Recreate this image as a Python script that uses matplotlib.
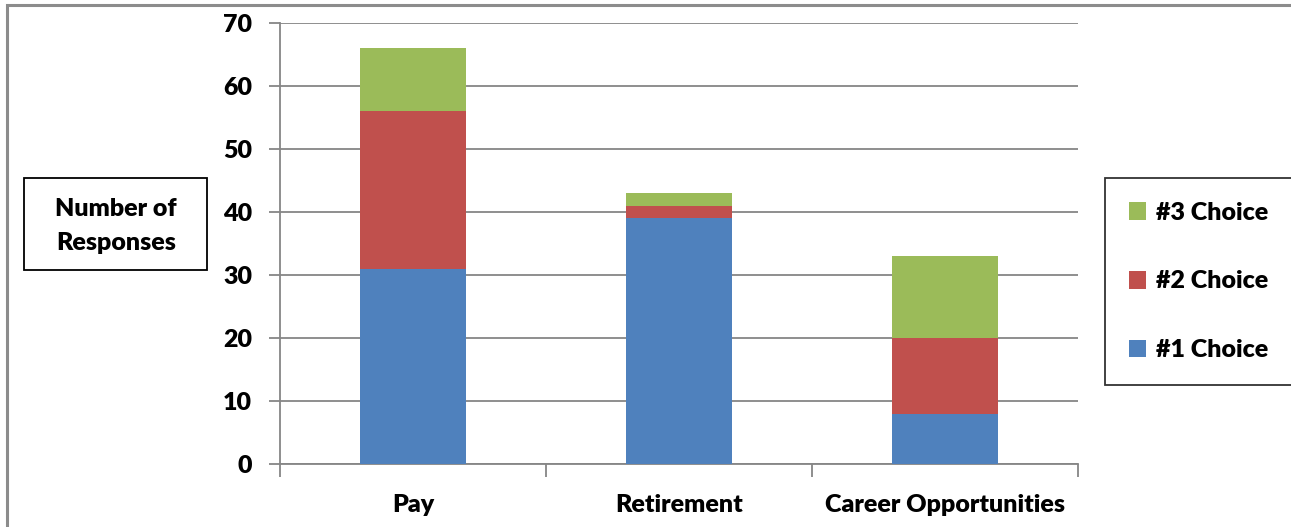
import matplotlib
matplotlib.use("Agg")
import matplotlib.pyplot as plt
from matplotlib.patches import Rectangle, Patch

# Ответы по категориям (стек: #1, #2, #3)
categories = ["Pay", "Retirement", "Career Opportunities"]
choice1 = [31, 39, 8]
choice2 = [25, 2, 12]
choice3 = [10, 2, 13]
series_labels = ["#1 Choice", "#2 Choice", "#3 Choice"]
y_ticks = [0, 10, 20, 30, 40, 50, 60, 70]

COLORS = ["#4F81BD", "#C0504D", "#9BBB59"]
GRID = "#868686"
FONT = "Lato"
WEIGHT = "heavy"
FS = 18

W, H = 1291, 527
fig = plt.figure(figsize=(W / 100, H / 100), dpi=100)

# рамка всей диаграммы (уходит за край справа и снизу)
fig.patches.append(Rectangle((7 / W, -0.05), 1.1, 1 - 5 / H + 0.05,
                             transform=fig.transFigure, fill=False,
                             edgecolor="#8c8c8c", linewidth=2.2))

ax = fig.add_axes([280 / W, 63 / H, 798 / W, 441 / H])

x = list(range(len(categories)))
bottom2 = [a for a in choice1]
bottom3 = [a + b for a, b in zip(choice1, choice2)]
ax.bar(x, choice1, width=0.4, color=COLORS[0], zorder=3)
ax.bar(x, choice2, width=0.4, bottom=bottom2, color=COLORS[1], zorder=3)
ax.bar(x, choice3, width=0.4, bottom=bottom3, color=COLORS[2], zorder=3)

ax.set_xlim(-0.5, len(categories) - 0.5)
ax.set_ylim(0, 70)
ax.set_yticks(y_ticks)
ax.yaxis.grid(True, color=GRID, linewidth=1.3, zorder=0)
ax.set_axisbelow(True)

for s in ("top", "right"):
    ax.spines[s].set_visible(False)
for s in ("left", "bottom"):
    ax.spines[s].set_color(GRID)
    ax.spines[s].set_linewidth(1.3)

# деления между категориями
ax.set_xticks([i - 0.5 for i in range(len(categories) + 1)], minor=False)
ax.set_xticklabels([])
ax.tick_params(axis="x", length=9, color=GRID, width=1.3)
ax.tick_params(axis="y", length=8, color=GRID, width=1.3, pad=12)
for t in ax.get_yticklabels():
    t.set_fontfamily(FONT)
    t.set_fontweight(WEIGHT)
    t.set_fontsize(FS)

for i, name in enumerate(categories):
    ax.text(i, -6.5, name, ha="center", va="center", fontsize=FS,
            fontweight=WEIGHT, family=FONT)

# подпись оси Y в рамке
fig.patches.append(Rectangle((24 / W, 1 - 270 / H), 183 / W, 92 / H,
                             transform=fig.transFigure, fill=False,
                             edgecolor="black", linewidth=1.3))
fig.text(116 / W, 1 - 226 / H, "Number of\nResponses", ha="center",
         va="center", fontsize=FS, fontweight=WEIGHT, family=FONT,
         linespacing=1.72)

# легенда
handles = [Patch(facecolor=COLORS[i], label=series_labels[i]) for i in (2, 1, 0)]
leg = fig.legend(handles=handles, loc="upper left",
                 bbox_to_anchor=(1105 / W, 1 - 178 / H),
                 bbox_transform=fig.transFigure,
                 prop={"family": FONT, "weight": WEIGHT, "size": FS},
                 frameon=True, fancybox=False, borderpad=0.95,
                 labelspacing=1.87, handlelength=0.7, handleheight=0.7,
                 handletextpad=0.4, borderaxespad=0)
leg.get_frame().set_edgecolor("black")
leg.get_frame().set_linewidth(1.3)

fig.savefig("out.png", dpi=100)
